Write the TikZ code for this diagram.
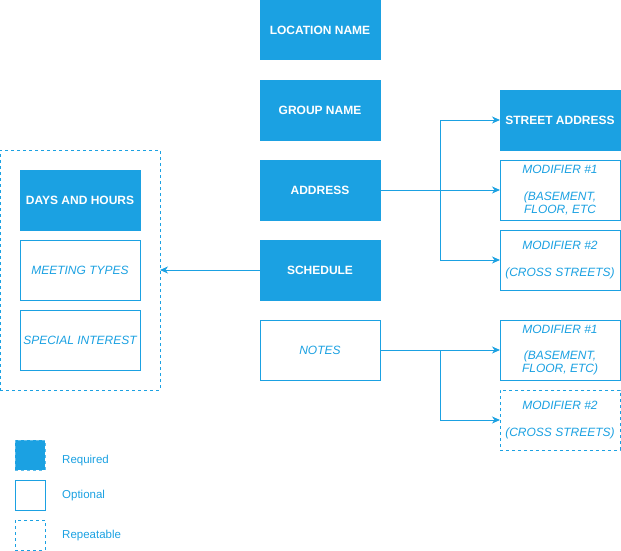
\documentclass[tikz,border=0pt]{standalone}
\usepackage{fontspec}
\setmainfont{Liberation Sans}
\usetikzlibrary{arrows.meta}
\definecolor{dblue}{HTML}{1BA1E2}
\begin{document}
\begin{tikzpicture}[x=1pt,y=-1pt,
  box/.style={minimum width=120pt,minimum height=60pt,inner sep=0pt,outer sep=0pt,line width=1pt,align=center},
  req/.style={box,fill=dblue,draw=dblue,text=white,font=\fontsize{12}{13.3}\selectfont\bfseries},
  opt/.style={box,fill=white,draw=dblue,text=dblue,font=\fontsize{12}{13.3}\selectfont\itshape},
  rep/.style={opt,dash pattern=on 3pt off 3pt},
  conn/.style={draw=dblue,line width=1pt,-{Stealth[length=8pt,width=7pt,inset=2.5pt]}},
  line/.style={draw=dblue,line width=1pt},
  leg/.style={text=dblue,font=\fontsize{11.5}{13}\selectfont,anchor=west,inner sep=0pt}
]
\useasboundingbox (0,0) rectangle (621,551);
% center column
\node[req] (loc) at (320,30) {LOCATION NAME};
\node[req] (grp) at (320,110) {GROUP NAME};
\node[req] (addr) at (320,190) {ADDRESS};
\node[req] (sched) at (320,270) {SCHEDULE};
\node[opt] (notes) at (320,350) {NOTES};
% right column
\node[req] (street) at (560,120) {STREET ADDRESS};
\node[opt] (amod1) at (560,190) {MODIFIER \#1\\~\\(BASEMENT,\\FLOOR, ETC};
\node[opt] (amod2) at (560,260) {MODIFIER \#2\\~\\(CROSS STREETS)};
\node[opt] (nmod1) at (560,350) {MODIFIER \#1\\~\\(BASEMENT,\\FLOOR, ETC)};
\node[rep] (nmod2) at (560,420) {MODIFIER \#2\\~\\(CROSS STREETS)};
% left container
\node[rep,minimum width=160pt,minimum height=240pt] (cont) at (80,270) {};
\node[req] (days) at (80,200) {DAYS AND HOURS};
\node[opt] (mtypes) at (80,270) {MEETING TYPES};
\node[opt] (spec) at (80,340) {SPECIAL INTEREST};
% connectors
\coordinate (nb) at (440,350);
\draw[conn] (addr.east) -- (amod1.west);
\draw[line] (440,120) -- (440,260);
\draw[conn] (440,120) -- (street.west);
\draw[conn] (440,260) -- (amod2.west);
\draw[conn] (sched.west) -- (cont.east);
\draw[conn] (notes.east) -- (nmod1.west);
\draw[conn] (nb) -- (440,420) -- (nmod2.west);
% legend
\node[box,minimum width=30pt,minimum height=30pt,fill=dblue,draw=dblue!70!white,dash pattern=on 3pt off 3pt] (lreq) at (30,455) {};
\node[box,minimum width=30pt,minimum height=30pt,draw=dblue] (lopt) at (30,495) {};
\node[box,minimum width=30pt,minimum height=30pt,draw=dblue,dash pattern=on 3pt off 3pt] (lrep) at (30,535) {};
\node[leg] (treq) at (62,461) {Required};
\node[leg] (topt) at (62,496) {Optional};
\node[leg] (trep) at (62,536) {Repeatable};
\end{tikzpicture}
\end{document}
